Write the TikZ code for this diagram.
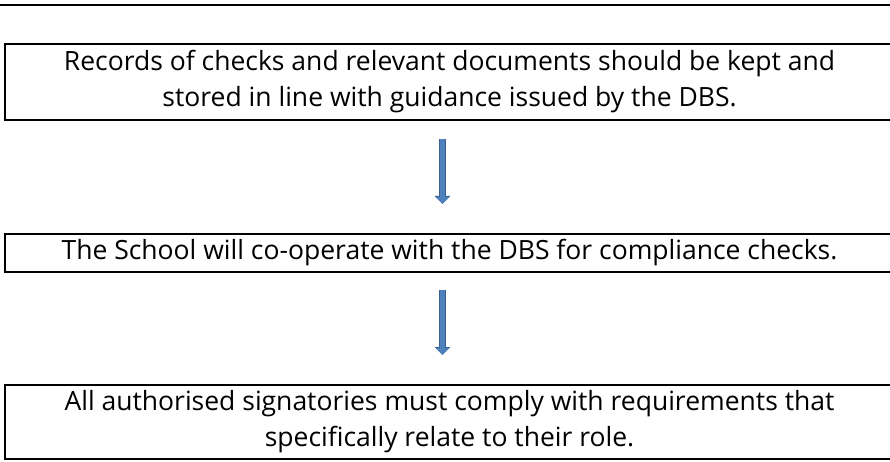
\documentclass[tikz,border=0pt]{standalone}
\usepackage{fontspec}
\setmainfont{Open Sans}
\usetikzlibrary{positioning}
\usetikzlibrary{arrows.meta}

\definecolor{arrowfill}{RGB}{79,129,189}
\definecolor{arrowedge}{RGB}{58,96,142}

\begin{document}
\begin{tikzpicture}[x=1pt,y=-1pt,
	stepbox/.style={draw=black, line width=2pt, anchor=north west, minimum width=889pt, align=center, inner sep=0pt, font=\fontsize{26.5}{36}\selectfont},
	flow/.style={draw=arrowfill, line width=5pt, -{Triangle[width=13pt,length=7pt]},
		preaction={draw=arrowedge, line width=7pt, -{Triangle[width=15pt,length=8pt]}}}]

	\useasboundingbox (0,0) rectangle (890,462);

	%Rule
	\draw[line width=2pt] (0,5) -- (890,5);

	%Steps
	%Records
	\node[stepbox, minimum height=76pt] (rec) at (4,43)
		{Records of checks and relevant documents should be kept and\\stored in line with guidance issued by the DBS.};

	%Co-operation
	\node[stepbox, minimum height=38pt] (coop) at (4,233)
		{The School will co-operate with the DBS for compliance checks.};

	%Signatories
	\node[stepbox, minimum height=74pt] (sign) at (4,384)
		{All authorised signatories must comply with requirements that\\specifically relate to their role.};

	%Arrows
	\draw[flow] ([shift={(-7pt,-18pt)}]rec.south) -- ([shift={(-7pt,29pt)}]coop.north);
	\draw[flow] ([shift={(-7pt,-17pt)}]coop.south) -- ([shift={(-7pt,29pt)}]sign.north);

\end{tikzpicture}
\end{document}
